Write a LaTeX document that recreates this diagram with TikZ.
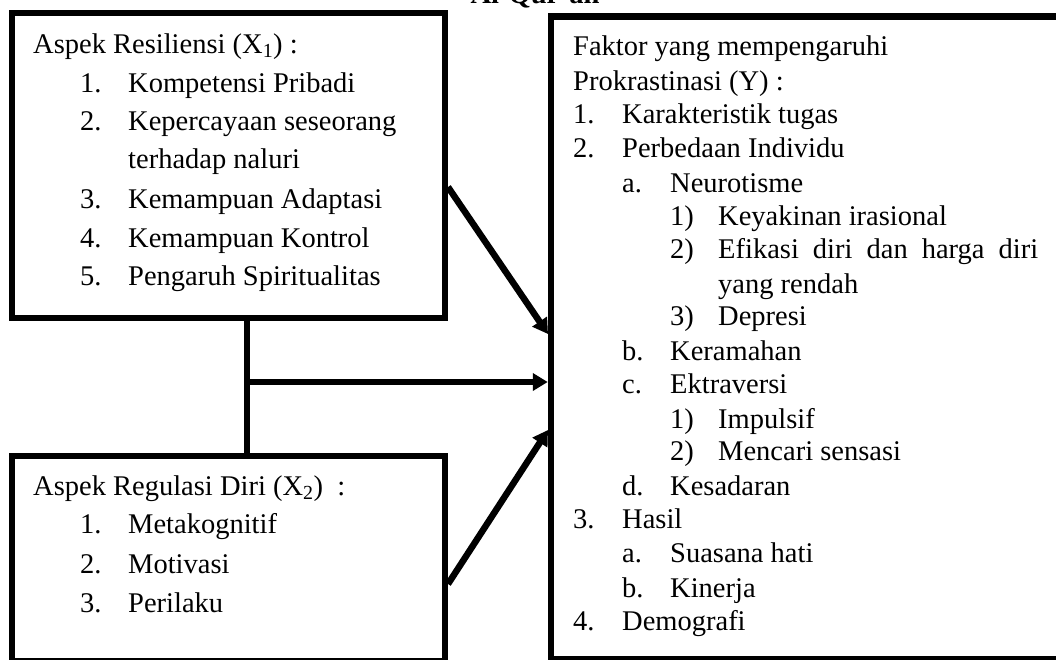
\documentclass[tikz,border=0pt]{standalone}
\usepackage{fontspec}
\setmainfont{Liberation Serif}
\usetikzlibrary{arrows.meta}

\tikzset{
  box/.style={draw, line width=6.5pt, inner sep=0pt},
  txt/.style={anchor=base west, inner sep=0pt, font=\fontsize{28.5}{34}\selectfont},
  link/.style={line width=6.5pt},
  arr/.style={line width=6.5pt, -{Triangle[length=15pt,width=17pt]}},
}

\begin{document}
\begin{tikzpicture}[x=1pt, y=-1pt]
\useasboundingbox (0,0) rectangle (1056,659);

% boxes
\node[box, minimum width=433pt, minimum height=305pt] (res) at (228.5,165.5) {};
\node[box, minimum width=433pt, minimum height=205pt] (reg) at (228.5,558.5) {};
\node[box, minimum width=511pt, minimum height=642.5pt] (fak) at (806.5,337.75) {};

\node[txt, anchor=base, font=\fontsize{28.5}{34}\selectfont\bfseries] (quran) at (535,3) {Al-Qur'an};

% Resiliensi
\node[txt] (res0) at (33,53) {Aspek Resiliensi (X\textsubscript{1}) :};
\node[txt] (resn1) at (80,92) {1.};
\node[txt] (res1) at (128,92) {Kompetensi Pribadi};
\node[txt] (resn2) at (80,130) {2.};
\node[txt] (res2) at (128,130) {Kepercayaan seseorang};
\node[txt] (res2b) at (128,168) {terhadap naluri};
\node[txt] (resn3) at (80,208) {3.};
\node[txt] (res3) at (128,208) {Kemampuan Adaptasi};
\node[txt] (resn4) at (80,247) {4.};
\node[txt] (res4) at (128,247) {Kemampuan Kontrol};
\node[txt] (resn5) at (80,285) {5.};
\node[txt] (res5) at (128,285) {Pengaruh Spiritualitas};

% Regulasi diri
\node[txt] (reg0) at (33,495) {Aspek Regulasi Diri (X\textsubscript{2})~~:};
\node[txt] (regn1) at (80,533) {1.};
\node[txt] (reg1) at (128,533) {Metakognitif};
\node[txt] (regn2) at (80,573) {2.};
\node[txt] (reg2) at (128,573) {Motivasi};
\node[txt] (regn3) at (80,612) {3.};
\node[txt] (reg3) at (128,612) {Perilaku};

% Prokrastinasi
\node[txt] (fak0) at (573,55) {Faktor yang mempengaruhi};
\node[txt] (fak0b) at (573,90) {Prokrastinasi (Y) :};
\node[txt] (fakn1) at (573,123) {1.};
\node[txt] (fak1) at (622,123) {Karakteristik tugas};
\node[txt] (fakn2) at (573,157) {2.};
\node[txt] (fak2) at (622,157) {Perbedaan Individu};
\node[txt] (fakn2a) at (622,192) {a.};
\node[txt] (fak2a) at (670,192) {Neurotisme};
\node[txt] (fakn2a1) at (670,225) {1)};
\node[txt] (fak2a1) at (718,225) {Keyakinan irasional};
\node[txt] (fakn2a2) at (670,258) {2)};
\node[txt] (fak2a2) at (718,258) {\makebox[320pt][s]{Efikasi diri dan harga diri}};
\node[txt] (fak2a2b) at (718,293) {yang rendah};
\node[txt] (fakn2a3) at (670,325) {3)};
\node[txt] (fak2a3) at (718,325) {Depresi};
\node[txt] (fakn2b) at (622,360) {b.};
\node[txt] (fak2b) at (670,360) {Keramahan};
\node[txt] (fakn2c) at (622,393) {c.};
\node[txt] (fak2c) at (670,393) {Ektraversi};
\node[txt] (fakn2c1) at (670,428) {1)};
\node[txt] (fak2c1) at (718,428) {Impulsif};
\node[txt] (fakn2c2) at (670,460) {2)};
\node[txt] (fak2c2) at (718,460) {Mencari sensasi};
\node[txt] (fakn2d) at (622,495) {d.};
\node[txt] (fak2d) at (670,495) {Kesadaran};
\node[txt] (fakn3) at (573,528) {3.};
\node[txt] (fak3) at (622,528) {Hasil};
\node[txt] (fakn3a) at (622,562) {a.};
\node[txt] (fak3a) at (670,562) {Suasana hati};
\node[txt] (fakn3b) at (622,597) {b.};
\node[txt] (fak3b) at (670,597) {Kinerja};
\node[txt] (fakn4) at (573,630) {4.};
\node[txt] (fak4) at (622,630) {Demografi};

% connectors
\coordinate (join) at (247,382);
\coordinate (resout) at (448,187);
\coordinate (regout) at (448,584);
\coordinate (fakin1) at (548,334);
\coordinate (fakin3) at (548,430);

\draw[link] (join |- res.south) -- (join |- reg.north);
\draw[arr] (join) -- (join -| fak.west);
\draw[arr] (resout) -- (fakin1);
\draw[arr] (regout) -- (fakin3);

\end{tikzpicture}
\end{document}
